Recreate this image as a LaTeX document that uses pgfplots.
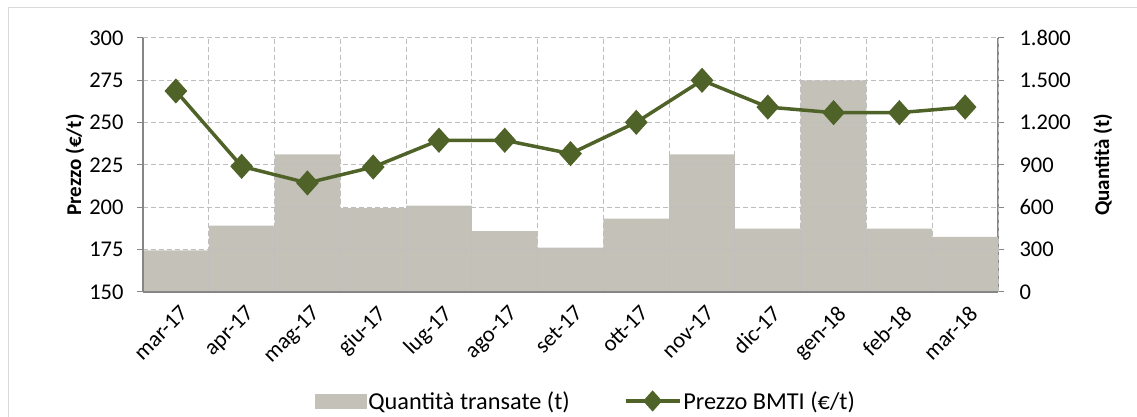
\documentclass[border=0pt]{standalone}
\usepackage{fontspec}
\setmainfont{Carlito}
\usepackage{pgfplots}
\usepackage{pgfplotstable}
\pgfplotsset{compat=1.18}

\definecolor{barcol}{RGB}{196,193,185}
\definecolor{linecol}{RGB}{79,98,40}
\definecolor{gridcol}{RGB}{190,190,190}
\definecolor{axcol}{RGB}{134,134,134}
\newcommand{\fs}{\fontsize{22.5pt}{26pt}\selectfont}
\newcommand{\fl}{\fontsize{24.3pt}{28pt}\selectfont}
\newcommand{\fa}{\fontsize{21pt}{25pt}\selectfont}

% x: month index, q: quantita transate (t), p: prezzo BMTI (euro/t)
\pgfplotstableread{
x q    p
0 295  268.7
1 470  224.2
2 975  214.4
3 595  223.8
4 612  239.6
5 432  239.6
6 314  231.7
7 520  250.2
8 975  275.0
9 449  259.2
10 1500 255.9
11 449 255.9
12 390 259.2
}\data

\pgfplotsset{
    base/.style={
        width=855pt, height=254pt, scale only axis,
        at={(143pt,125pt)}, anchor=south west,
        xmin=-0.5, xmax=12.5,
        tick label style={font=\fs},
        label style={font=\fa\bfseries},
        /pgf/number format/assume math mode=true,
        /pgf/number format/1000 sep={.},
        axis line style={axcol, line width=1.2pt},
        major tick style={axcol, line width=1pt},
        major tick length=6pt,
        tick align=outside,
    },
    barleg/.style={legend image code/.code={\fill[barcol] (0pt,-7pt) rectangle (51pt,7pt);}},
    lineleg/.style={legend image code/.code={\draw[mark repeat=2, mark phase=2, ##1, mark size=8pt]
        plot coordinates {(0pt,0pt) (27pt,0pt) (54pt,0pt)};}},
}

\begin{document}
\begin{tikzpicture}
\useasboundingbox (0,0) rectangle (1137pt,417pt);
\draw[gray!30, line width=1pt] (8pt,0pt) -- (8pt,409pt) -- (1137pt,409pt);

% right axis: quantity bars
\begin{axis}[
    base,
    axis y line*=right, axis x line=none,
    ymin=0, ymax=1800,
    ytick={0,300,600,900,1200,1500,1800},
    yticklabel style={xshift=12pt},
    ylabel={Quantità (t)},
    ylabel style={at={(rel axis cs:1.1228,0.5)}, anchor=center, rotate=0},
]
\addplot[ybar, bar width=1, bar shift=0pt, fill=barcol, draw=none] table[x=x, y=q] {\data};
\end{axis}

% left axis: price line
\begin{axis}[
    base,
    axis y line*=left, axis x line*=bottom,
    ymin=150, ymax=300,
    ytick={150,175,200,225,250,275,300},
    yticklabel style={xshift=-10pt},
    xtick={0,...,12},
    xticklabels={mar-17,apr-17,mag-17,giu-17,lug-17,ago-17,set-17,ott-17,nov-17,dic-17,gen-18,feb-18,mar-18},
    xticklabel style={rotate=45, anchor=north east, xshift=1pt, yshift=-3pt},
    x tick style={draw=none},
    minor xtick={-0.5,0.5,...,12.5},
    ymajorgrids, xminorgrids,
    grid style={gridcol, line width=1pt, dash pattern=on 5pt off 3pt},
    minor grid style={gridcol, line width=1pt, dash pattern=on 5pt off 3pt},
    minor x tick style={draw=none},
    ylabel={Prezzo (€/t)},
    ylabel style={at={(rel axis cs:-0.0795,0.5)}, anchor=center},
    legend style={at={(0.518,-0.429)}, anchor=center, draw=none, fill=none,
        font=\fl, legend columns=2,
        /tikz/every even column/.append style={column sep=52pt}},
]
\addlegendimage{barleg}
\addlegendentry{Quantità transate (t)}
\addplot[linecol, line width=3.5pt, mark=diamond*, mark size=10pt,
    mark options={solid, fill=linecol, xscale=1.2}, lineleg]
    table[x=x, y=p] {\data};
\addlegendentry{Prezzo BMTI (€/t)}
\end{axis}
\end{tikzpicture}
\end{document}
